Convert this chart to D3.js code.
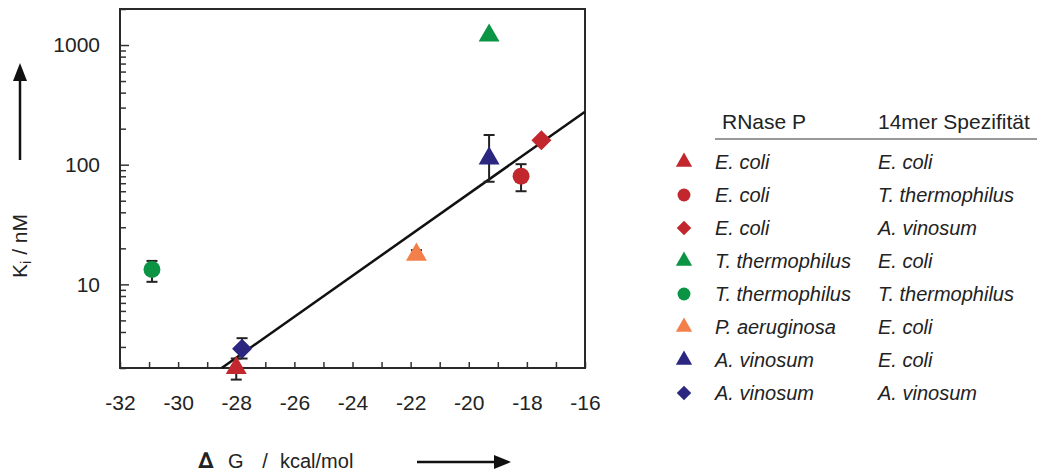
<!DOCTYPE html>
<html>
<head>
<meta charset="utf-8">
<script src="https://d3js.org/d3.v7.min.js"></script>
<style>
  body { margin: 0; background: #fff; }
  text { font-family: "Liberation Sans", Arial, sans-serif; fill: #222; }
</style>
</head>
<body>
<div id="chart"></div>
<script>
// legend columns
var rnase = ["E. coli", "E. coli", "E. coli", "T. thermophilus", "T. thermophilus", "P. aeruginosa", "A. vinosum", "A. vinosum"];
var spec = ["E. coli", "T. thermophilus", "A. vinosum", "E. coli", "T. thermophilus", "E. coli", "E. coli", "A. vinosum"];
var shapes = ["triangle", "circle", "diamond", "triangle", "circle", "triangle", "triangle", "diamond"];
var colors = ["#c1272d", "#c1272d", "#c1272d", "#0b9444", "#0b9444", "#f3804a", "#2b2780", "#2b2780"];

// data: dG (kcal/mol), Ki (nM) with error range
var dG = [-28.0, -18.2, -17.5, -19.3, -30.9, -21.8, -19.3, -27.8];
var ki = [2.0, 80, 160, 1200, 13.3, 17.7, 113, 2.9];
var kiLow = [1.6, 60, null, null, 10.5, 16.8, 72, 2.4];
var kiHigh = [2.4, 101, null, null, 15.7, 19.3, 177, 3.55];

// regression line
var fitDG = [-28.5, -16];
var fitKi = [2, 277];

var xTicks = [-32, -31, -30, -29, -28, -27, -26, -25, -24, -23, -22, -21, -20, -19, -18, -17, -16];
var yMajor = [10, 100, 1000];
var yTicks = [2, 3, 4, 5, 6, 7, 8, 9, 10, 20, 30, 40, 50, 60, 70, 80, 90, 100, 200, 300, 400, 500, 600, 700, 800, 900, 1000, 2000];

var W = 1037, H = 473;
var svg = d3.select("#chart").append("svg").attr("width", W).attr("height", H);

var x = d3.scaleLinear().domain([-32, -16]).range([120, 585]);
var y = d3.scaleLog().domain([2, 2000]).range([368, 9]);

// x axis
var gx = svg.append("g").attr("transform", "translate(0,368)")
  .call(d3.axisBottom(x).tickValues(xTicks).tickSize(-6).tickSizeOuter(0).tickPadding(27)
    .tickFormat(function (d) { return d % 2 === 0 ? String(d) : ""; }));
gx.select(".domain").remove();
gx.selectAll("line").attr("stroke", "#333").attr("stroke-width", 1.5);
gx.selectAll("text").style("font-size", "21px").attr("fill", "#222");

// y axis
var gy = svg.append("g").attr("transform", "translate(120,0)")
  .call(d3.axisLeft(y).tickValues(yTicks).tickSize(-6).tickSizeOuter(0).tickPadding(20)
    .tickFormat(function (d) { return yMajor.indexOf(d) >= 0 ? String(d) : ""; }));
gy.select(".domain").remove();
gy.selectAll("line").attr("stroke", "#333").attr("stroke-width", 1.5)
  .attr("x2", function (d) { return yMajor.indexOf(d) >= 0 ? 9 : 6; });
gy.selectAll("text").style("font-size", "21px").attr("fill", "#222");

// frame
svg.append("rect").attr("x", 120).attr("y", 9).attr("width", 465).attr("height", 359)
  .attr("fill", "none").attr("stroke", "#2a2a2a").attr("stroke-width", 2);

// fit line
svg.append("line")
  .attr("x1", x(fitDG[0])).attr("y1", y(fitKi[0]))
  .attr("x2", x(fitDG[1])).attr("y2", y(fitKi[1]))
  .attr("stroke", "#111").attr("stroke-width", 2.5);

// error bars
var idx = d3.range(dG.length);
var eb = svg.append("g").attr("stroke", "#222").attr("stroke-width", 2);
idx.filter(function (i) { return kiLow[i] != null; }).forEach(function (i) {
  var cx = x(dG[i]);
  eb.append("line").attr("x1", cx).attr("x2", cx).attr("y1", y(kiLow[i])).attr("y2", y(kiHigh[i]));
  eb.append("line").attr("x1", cx - 5.5).attr("x2", cx + 5.5).attr("y1", y(kiLow[i])).attr("y2", y(kiLow[i]));
  eb.append("line").attr("x1", cx - 5.5).attr("x2", cx + 5.5).attr("y1", y(kiHigh[i])).attr("y2", y(kiHigh[i]));
});

function symbolPath(shape, big) {
  if (shape === "triangle") return d3.symbol(d3.symbolTriangle, big ? 190 : 115)();
  if (shape === "circle") return d3.symbol(d3.symbolCircle, big ? 225 : 130)();
  return d3.symbol(d3.symbolSquare, big ? 200 : 105)();
}

// markers
svg.append("g").selectAll("path").data(idx).enter().append("path")
  .attr("d", function (i) { return symbolPath(shapes[i], true); })
  .attr("transform", function (i) {
    return "translate(" + x(dG[i]) + "," + y(ki[i]) + ")" + (shapes[i] === "diamond" ? " rotate(45)" : "");
  })
  .attr("fill", function (i) { return colors[i]; });

// axis titles
var yl = svg.append("text").attr("transform", "translate(27,246) rotate(-90)")
  .attr("text-anchor", "middle").style("font-size", "21px");
yl.append("tspan").text("K");
yl.append("tspan").text("i").attr("baseline-shift", "-25%").style("font-size", "15px");
yl.append("tspan").text(" / nM");

svg.append("line").attr("x1", 20).attr("x2", 20).attr("y1", 160).attr("y2", 78)
  .attr("stroke", "#111").attr("stroke-width", 2.5);
svg.append("path").attr("d", "M20,63 L13,81 L27,81 Z").attr("fill", "#111");

svg.append("text").attr("x", 206).attr("y", 468).attr("text-anchor", "middle")
  .style("font-size", "22px").style("font-weight", "bold").style("font-family", "DejaVu Sans").text("\u2206");
svg.append("text").attr("x", 228).attr("y", 468).style("font-size", "20px").text("G");
svg.append("text").attr("x", 265).attr("y", 468).attr("text-anchor", "middle").style("font-size", "20px").text("/");
svg.append("text").attr("x", 280).attr("y", 468).style("font-size", "20px").text("kcal/mol");
svg.append("line").attr("x1", 417).attr("x2", 496).attr("y1", 462).attr("y2", 462)
  .attr("stroke", "#111").attr("stroke-width", 2.5);
svg.append("path").attr("d", "M511,462 L494,455 L494,469 Z").attr("fill", "#111");

// legend
var lg = svg.append("g");
lg.append("text").attr("x", 722).attr("y", 122).attr("dy", "0.35em").style("font-size", "21px").text("RNase P");
lg.append("text").attr("x", 878).attr("y", 122).attr("dy", "0.35em").style("font-size", "21px").text("14mer Spezifit\u00e4t");
lg.append("line").attr("x1", 715).attr("x2", 1037).attr("y1", 139).attr("y2", 139)
  .attr("stroke", "#777").attr("stroke-width", 1.5);

var rowY = d3.scaleLinear().domain([0, 7]).range([162, 393]);
var rows = lg.selectAll("g.row").data(idx).enter().append("g").attr("class", "row")
  .attr("transform", function (i) { return "translate(0," + rowY(i) + ")"; });
rows.append("path")
  .attr("d", function (i) { return symbolPath(shapes[i], false); })
  .attr("transform", function (i) { return "translate(684,0)" + (shapes[i] === "diamond" ? " rotate(45)" : ""); })
  .attr("fill", function (i) { return colors[i]; });
rows.append("text").attr("x", 715).attr("dy", "0.35em").style("font-size", "20px").style("font-style", "italic")
  .text(function (i) { return rnase[i]; });
rows.append("text").attr("x", 878).attr("dy", "0.35em").style("font-size", "20px").style("font-style", "italic")
  .text(function (i) { return spec[i]; });
</script>
</body>
</html>
